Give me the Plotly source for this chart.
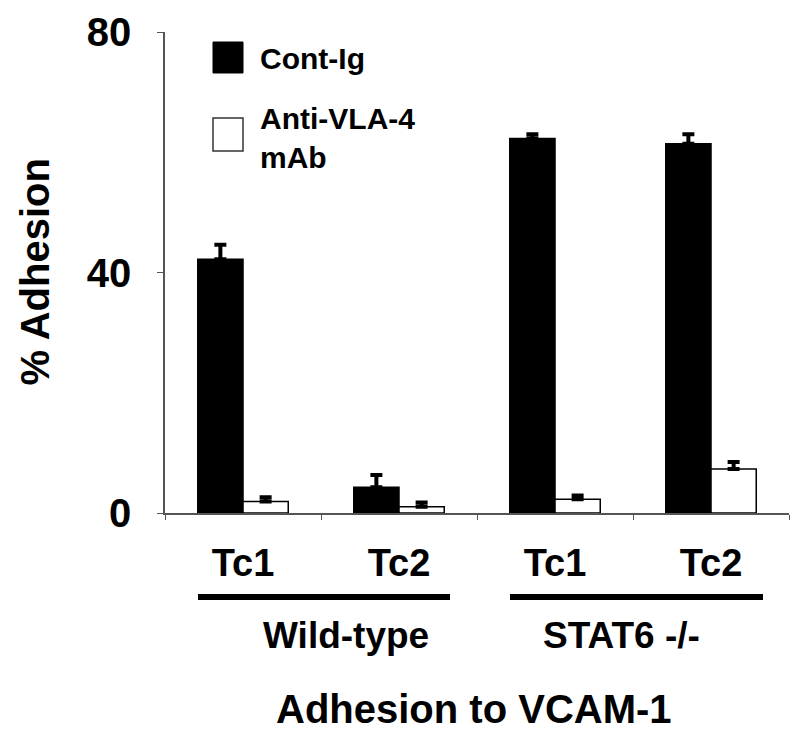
import plotly.graph_objects as go

categories = ["WT-Tc1", "WT-Tc2", "STAT6-Tc1", "STAT6-Tc2"]
tick_labels = ["Tc1", "Tc2", "Tc1", "Tc2"]
cont_ig = [42.2, 4.3, 62.3, 61.4]
cont_ig_err = [2.4, 2.0, 0.7, 1.6]
anti_vla4 = [1.9, 1.05, 2.3, 7.3]
anti_vla4_err = [0.7, 0.7, 0.6, 1.2]
zeros = [0, 0, 0, 0]

FONT = "Liberation Sans, Arial, sans-serif"
L, R, T, B = 165, 11, 32, 222
W, H = 800, 735
PW, PH = W - L - R, H - T - B


def px(x):
    return (x - L) / PW


def py(y):
    return (H - B - y) / PH


fig = go.Figure()
fig.add_trace(go.Bar(
    x=categories, y=cont_ig, name="Cont-Ig",
    marker=dict(color="black", line=dict(color="black", width=1.5)),
    error_y=dict(type="data", symmetric=False, array=cont_ig_err, arrayminus=zeros,
                 color="black", thickness=4, width=6),
    showlegend=False,
))
fig.add_trace(go.Bar(
    x=categories, y=anti_vla4, name="Anti-VLA-4 mAb",
    marker=dict(color="white", line=dict(color="black", width=1.5)),
    error_y=dict(type="data", symmetric=False, array=anti_vla4_err, arrayminus=zeros,
                 color="black", thickness=4, width=6),
    showlegend=False,
))

shapes = []
annotations = []

# custom legend
shapes.append(dict(type="rect", xref="paper", yref="paper",
                   x0=px(213), x1=px(243), y0=py(73), y1=py(42),
                   fillcolor="black", line=dict(color="black", width=1)))
shapes.append(dict(type="rect", xref="paper", yref="paper",
                   x0=px(213), x1=px(243), y0=py(151), y1=py(118),
                   fillcolor="white", line=dict(color="#333", width=1.5)))
annotations.append(dict(xref="paper", yref="paper", x=px(258), y=py(58),
                        text="Cont-Ig", showarrow=False, xanchor="left", yanchor="middle",
                        font=dict(size=30)))
annotations.append(dict(xref="paper", yref="paper", x=px(258), y=py(138),
                        text="Anti-VLA-4<br>mAb", showarrow=False, xanchor="left",
                        yanchor="middle", align="left", font=dict(size=30)))

# group underlines
shapes.append(dict(type="line", xref="paper", yref="paper",
                   x0=px(198), x1=px(450), y0=py(597), y1=py(597),
                   line=dict(color="black", width=6)))
shapes.append(dict(type="line", xref="paper", yref="paper",
                   x0=px(510), x1=px(763), y0=py(597), y1=py(597),
                   line=dict(color="black", width=6)))
annotations.append(dict(xref="paper", yref="paper", x=px(346), y=py(635),
                        text="Wild-type", showarrow=False, xanchor="center", yanchor="middle",
                        font=dict(size=37)))
annotations.append(dict(xref="paper", yref="paper", x=px(621), y=py(635),
                        text="STAT6 -/-", showarrow=False, xanchor="center", yanchor="middle",
                        font=dict(size=37)))

# axis titles
annotations.append(dict(xref="paper", yref="paper", x=px(474), y=py(709),
                        text="Adhesion to VCAM-1", showarrow=False, xanchor="center",
                        yanchor="middle", font=dict(size=40)))
annotations.append(dict(xref="paper", yref="paper", x=px(34), y=0.5,
                        text="% Adhesion", showarrow=False, textangle=-90,
                        xanchor="center", yanchor="middle", font=dict(size=40)))

fig.update_layout(
    width=W, height=H,
    margin=dict(l=L, r=R, t=T, b=B, pad=0),
    paper_bgcolor="white", plot_bgcolor="white",
    font=dict(family=FONT, color="black", weight="bold"),
    barmode="group", bargap=0.42, bargroupgap=0,
    shapes=shapes, annotations=annotations,
)
fig.update_xaxes(
    type="category", tickmode="array", tickvals=categories, ticktext=tick_labels,
    range=[-0.5, 3.5], tickson="boundaries", ticks="outside", ticklen=5,
    tickcolor="#555", showline=True, linecolor="#555", linewidth=1.5,
    showgrid=False, zeroline=False, tickfont=dict(size=38), ticklabelstandoff=16,
)
fig.update_yaxes(
    range=[0, 80], tickvals=[0, 40, 80], ticks="outside", ticklen=6,
    tickcolor="#555", showline=True, linecolor="#555", linewidth=1.5,
    showgrid=False, zeroline=False, tickfont=dict(size=40), ticklabelstandoff=18,
)

fig.write_html(
    "out.html",
    config={"displayModeBar": False},
    post_script="document.body.style.margin='0';document.body.style.padding='0';",
)
